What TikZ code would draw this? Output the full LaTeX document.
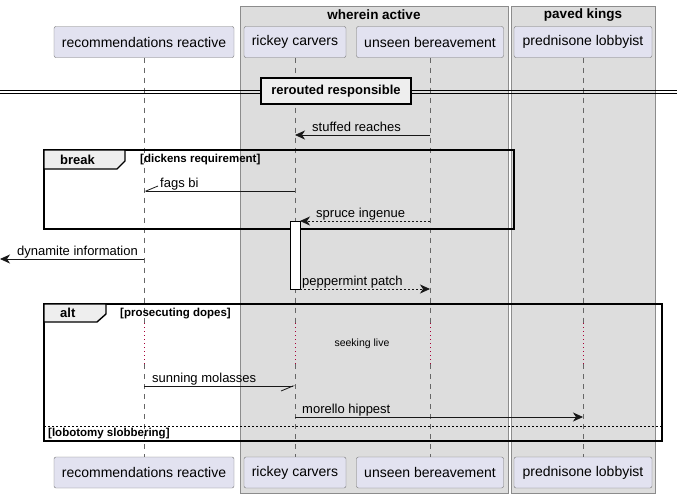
\documentclass[tikz,border=0pt]{standalone}
\usepackage{fontspec}
\setmainfont{Liberation Sans}
\usetikzlibrary{arrows.meta}
\definecolor{partfill}{HTML}{E2E2F0}
\definecolor{boxfill}{HTML}{DDDDDD}
\definecolor{tabfill}{HTML}{EEEEEE}
\definecolor{linegray}{HTML}{181818}
\definecolor{delayred}{HTML}{A80036}
\tikzset{
  part/.style={draw=black!55, fill=partfill, rounded corners=2pt, minimum height=31pt, inner sep=0pt, font=\fontsize{14}{16}\selectfont},
  grp/.style={draw=black!45, fill=boxfill, line width=0.7pt},
  grptitle/.style={font=\bfseries\fontsize{13.5}{15}\selectfont, inner sep=0pt},
  life/.style={draw=black!60, line width=0.6pt, dash pattern=on 5pt off 5pt},
  delay/.style={draw=delayred, line width=0.8pt, dash pattern=on 1pt off 3pt},
  msg/.style={font=\fontsize{13}{15}\selectfont, inner sep=0pt, anchor=base west},
  sync/.style={draw=linegray, line width=0.8pt, -{Stealth[length=10pt,width=9pt,inset=3pt]}},
  reply/.style={sync, dash pattern=on 2pt off 2pt},
  half/.style={draw=linegray, line width=0.8pt, -{Straight Barb[right,length=12pt,width=10pt,line width=0.8pt]}},
  frame/.style={draw=black, line width=1.4pt},
  tab/.style={draw=black, fill=tabfill, line width=1.4pt},
  tablabel/.style={font=\bfseries\fontsize{13}{15}\selectfont, inner sep=0pt, anchor=west},
  guard/.style={font=\bfseries\fontsize{11.5}{13}\selectfont, inner sep=0pt, anchor=west},
  act/.style={draw=black, fill=white, line width=0.8pt}
}
\begin{document}
\begin{tikzpicture}[x=1pt,y=-1pt]
\useasboundingbox (0,0) rectangle (677,498);
\draw[grp] (240,6) rectangle (508,493);
\draw[grp] (511,6) rectangle (655,493);
\node[grptitle] (wa) at (374,15) {wherein active};
\node[grptitle] (pk) at (583,15) {paved kings};

\node[part, minimum width=180pt] (rrT) at (144,42) {recommendations reactive};
\node[part, minimum width=102pt] (rcT) at (295,42) {rickey carvers};
\node[part, minimum width=147pt] (ubT) at (430,42) {unseen bereavement};
\node[part, minimum width=138pt] (plT) at (583,42) {prednisone lobbyist};
\node[part, minimum width=180pt] (rrB) at (144,472.5) {recommendations reactive};
\node[part, minimum width=102pt] (rcB) at (295,472.5) {rickey carvers};
\node[part, minimum width=147pt] (ubB) at (430,472.5) {unseen bereavement};
\node[part, minimum width=138pt] (plB) at (583,472.5) {prednisone lobbyist};

\coordinate (rrD) at (144,323);
\coordinate (rrE) at (144,364);
\coordinate (rcD) at (295,323);
\coordinate (rcE) at (295,364);
\coordinate (ubD) at (430,323);
\coordinate (ubE) at (430,364);
\coordinate (plD) at (583,323);
\coordinate (plE) at (583,364);
\draw[life] (rrT) -- (rrD);
\draw[delay] (rrD) -- (rrE);
\draw[life] (rrE) -- (rrB);
\draw[life] (rcT) -- (rcD);
\draw[delay] (rcD) -- (rcE);
\draw[life] (rcE) -- (rcB);
\draw[life] (ubT) -- (ubD);
\draw[delay] (ubD) -- (ubE);
\draw[life] (ubE) -- (ubB);
\draw[life] (plT) -- (plD);
\draw[delay] (plD) -- (plE);
\draw[life] (plE) -- (plB);

\draw[line width=0.8pt] (0,90) -- (677,90);
\draw[line width=0.8pt] (0,93) -- (677,93);
\node[draw=black, fill=tabfill, line width=1.6pt, minimum width=150pt, minimum height=26pt, inner sep=0pt, font=\bfseries\fontsize{13}{15}\selectfont] (div) at (336,91) {rerouted responsible};

\coordinate (ub1) at (430,135);
\coordinate (rc1) at (295,135);
\draw[sync] (ub1) -- (rc1);
\node[msg] (m1) at (312,131) {stuffed reaches};

\draw[frame] (44,150) rectangle (514,229);
\draw[tab] (44,150) -- (125,150) -- (125,161) -- (117,169) -- (44,169) -- cycle;
\node[tablabel] (brk) at (60,160) {break};
\node[guard] (g1) at (140,160) {[dickens requirement]};

\coordinate (rc2) at (295,191);
\coordinate (rr2) at (144,191);
\draw[half] (rc2) -- (rr2);
\node[msg] (m2) at (160,187) {fags bi};

\draw[act] (290,221) rectangle (300,289);
\coordinate (ub3) at (430,221);
\coordinate (ac3) at (300,221);
\draw[reply] (ub3) -- (ac3);
\node[msg] (m3) at (316,217) {spruce ingenue};

\coordinate (rr4) at (144,259);
\coordinate (out4) at (0,259);
\draw[sync] (rr4) -- (out4);
\node[msg] (m4) at (17,255) {dynamite information};

\coordinate (ac5) at (300,289);
\coordinate (ub5) at (430,289);
\draw[reply] (ac5) -- (ub5);
\node[msg] (m5) at (302,285) {peppermint patch};

\draw[frame] (44,304) rectangle (662,441);
\draw[tab] (44,304) -- (106,304) -- (106,314) -- (97,322) -- (44,322) -- cycle;
\node[tablabel] (alt) at (60,313) {alt};
\node[guard] (g2) at (120,314) {[prosecuting dopes]};
\node[font=\fontsize{10.5}{12}\selectfont, inner sep=0pt] (dl) at (362,344) {seeking live};

\coordinate (rr6) at (144,386);
\coordinate (rc6) at (295,386);
\draw[half] (rr6) -- (rc6);
\node[msg] (m6) at (152,382) {sunning molasses};

\coordinate (rc7) at (295,417);
\coordinate (pl7) at (583,417);
\draw[sync] (rc7) -- (pl7);
\node[msg] (m7) at (302,413) {morello hippest};

\draw[line width=0.6pt, dash pattern=on 2pt off 2pt] (44,426) -- (662,426);
\node[guard] (g3) at (48,434) {[lobotomy slobbering]};
\end{tikzpicture}
\end{document}
